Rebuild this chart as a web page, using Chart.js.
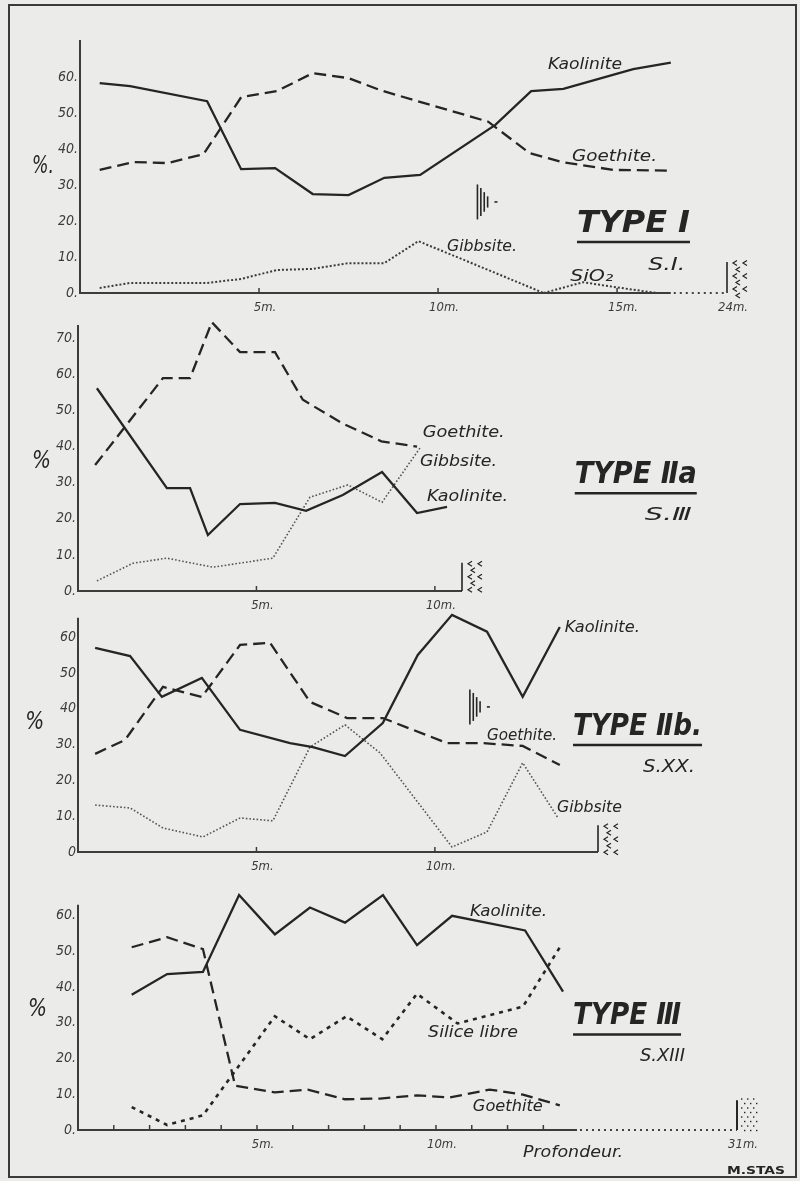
<!DOCTYPE html>
<html>
<head>
<meta charset="utf-8">
<script src="https://cdn.jsdelivr.net/npm/chart.js@4.4.1/dist/chart.umd.min.js"></script>
<style>
  html, body { margin: 0; padding: 0; background: #ebebe9; }
  #sheet { position: relative; width: 800px; height: 1181px; overflow: hidden; background: #ebebe9; }
  #frame { position: absolute; left: 8px; top: 4px; width: 785px; height: 1170px; border: 2px solid #3a3a3a; }
  canvas { position: absolute; left: 0; }
</style>
</head>
<body>
<div id="sheet">
  <div id="frame"></div>
  <canvas id="c1"></canvas>
  <canvas id="c2"></canvas>
  <canvas id="c3"></canvas>
  <canvas id="c4"></canvas>
</div>
<script>
// ---------- Profile S.I (Type I) : depth in m, content in % ----------
const kaolDepth1 = [0.55, 1.4, 3.55, 4.5, 5.45, 6.5, 7.5, 8.5, 9.5, 11.6, 12.6, 13.5, 15.45, 16.5];
const kaol1      = [58.3, 57.5, 53.3, 34.4, 34.7, 27.5, 27.2, 32.0, 32.8, 46.7, 56.1, 56.7, 62.2, 64.0];
const goeDepth1  = [0.55, 1.5, 2.45, 3.45, 4.5, 5.5, 6.5, 7.5, 8.4, 11.4, 12.55, 13.45, 14.9, 16.5];
const goe1       = [34.2, 36.4, 36.1, 38.6, 54.4, 56.1, 61.1, 59.7, 56.3, 47.6, 38.9, 36.4, 34.2, 34.0];
const gibDepth1  = [0.55, 1.4, 3.55, 4.5, 5.5, 6.5, 7.5, 8.5, 9.45, 10.6, 12.95];
const gib1       = [1.4, 2.8, 2.8, 3.9, 6.4, 6.7, 8.3, 8.3, 14.4, 9.7, 0.0];
const sioDepth1  = [12.95, 14.05, 14.9, 16.1];
const sio1       = [0.0, 3.0, 1.7, 0.0];

// ---------- Profile S.III (Type IIa) ----------
const kaolDepth2 = [0.53, 2.49, 3.14, 3.64, 4.54, 5.52, 6.39, 7.42, 8.52, 9.5, 10.34];
const kaol2      = [56.2, 28.5, 28.5, 15.5, 24.1, 24.4, 22.2, 26.6, 33.0, 21.6, 23.3];
const goeDepth2  = [0.48, 2.38, 3.14, 3.75, 4.54, 5.52, 6.3, 7.4, 8.5, 9.5];
const goe2       = [34.9, 59.0, 59.0, 74.5, 66.2, 66.2, 53.0, 46.5, 41.5, 40.0];
const gibDepth2  = [0.53, 1.54, 2.49, 3.78, 5.46, 6.5, 7.56, 8.52, 9.58];
const gib2       = [2.8, 7.7, 9.1, 6.6, 9.1, 26.0, 29.4, 24.6, 39.6];

// ---------- Profile S.XX (Type IIb) ----------
const kaolDepth3 = [0.48, 1.46, 2.35, 3.47, 4.54, 5.94, 6.58, 7.48, 8.54, 9.52, 10.48, 11.46, 12.46, 13.5];
const kaol3      = [57.0, 54.7, 43.3, 48.6, 34.1, 30.4, 29.3, 26.8, 36.0, 55.0, 66.2, 61.5, 43.3, 62.8];
const goeDepth3  = [0.48, 1.32, 2.38, 3.47, 4.54, 5.38, 6.5, 7.54, 8.54, 10.34, 11.34, 12.46, 13.5];
const goe3       = [27.4, 31.3, 46.1, 43.3, 57.8, 58.4, 41.9, 37.4, 37.4, 30.4, 30.4, 29.6, 24.3];
const gibDepth3  = [0.48, 1.46, 2.38, 3.5, 4.54, 5.46, 6.5, 7.48, 8.46, 10.48, 11.46, 12.46, 13.45];
const gib3       = [13.1, 12.3, 6.7, 4.2, 9.5, 8.7, 29.3, 35.5, 27.7, 1.4, 5.6, 24.9, 9.5];

// ---------- Profile S.XIII (Type III) ----------
const kaolDepth4 = [1.5, 2.49, 3.49, 4.5, 5.5, 6.48, 7.46, 8.52, 9.47, 10.45, 12.49, 13.55];
const kaol4      = [37.8, 43.6, 44.2, 65.7, 54.7, 62.2, 58.0, 65.7, 51.7, 59.9, 55.8, 38.7];
const goeDepth4  = [1.5, 2.49, 3.49, 4.39, 5.5, 6.42, 7.46, 8.44, 9.47, 10.39, 11.5, 12.43, 13.46];
const goe4       = [51.1, 53.9, 50.6, 12.4, 10.5, 11.3, 8.6, 8.8, 9.7, 9.1, 11.3, 9.9, 6.9];
const silDepth4  = [1.5, 2.49, 3.49, 5.5, 6.48, 7.5, 8.5, 9.47, 10.6, 12.43, 13.46];
const sil4       = [6.4, 1.4, 4.1, 31.8, 25.4, 31.8, 25.4, 38.1, 29.8, 34.5, 51.1];

// ---------- Axis ticks ----------
const yTicks1 = [0, 10, 20, 30, 40, 50, 60];
const yLabels1 = ['0.', '10.', '20.', '30.', '40.', '50.', '60.'];
const yTicks2 = [0, 10, 20, 30, 40, 50, 60, 70];
const yLabels2 = ['0.', '10.', '20.', '30.', '40.', '50.', '60.', '70.'];
const yTicks3 = [0, 10, 20, 30, 40, 50, 60];
const yLabels3 = ['0', '10.', '20.', '30.', '40', '50', '60'];
const yTicks4 = [0, 10, 20, 30, 40, 50, 60];
const yLabels4 = ['0.', '10.', '20.', '30.', '40.', '50.', '60.'];

// the last tick of profiles S.I and S.XIII marks the (compressed) bottom of the hole
const xTicks1 = [5, 10, 15, 18.07];
const xLabels1 = ['5m.', '10m.', '15m.', '24m.'];
const xTicks2 = [5, 10];
const xLabels2 = ['5m.', '10m.'];
const xTicks3 = [5, 10];
const xLabels3 = ['5m.', '10m.'];
const xTicks4 = [1, 2, 3, 4, 5, 6, 7, 8, 9, 10, 11, 12, 13, 18.41];
const xLabels4 = ['', '', '', '', '5m.', '', '', '', '', '10m.', '', '', '', '31m.'];

// ---------- styling ----------
const INK = '#252525';
const GREY = '#3c3c3c';
const FAM = '"DejaVu Sans Condensed", "DejaVu Sans", sans-serif';
const X_AXIS_H = 20;
const small = 'italic 15px ' + FAM;
const big = 'italic bold 30px ' + FAM;
const mid = 'italic 18px ' + FAM;
const pct = 'italic 24px ' + FAM;

const solid = { color: INK, width: 2.3, dash: [] };
const dashed = { color: INK, width: 2.3, dash: [12, 6] };
const dotted = { color: '#3a3a3a', width: 2, dash: [2, 2] };
const fineDots = { color: '#555', width: 1.6, dash: [1.6, 2] };
const coarseDots = { color: INK, width: 2.6, dash: [4, 5] };

function series(name, depth, values, style) {
  return { name, depth, values, style };
}

const panels = [
  {
    canvas: 'c1', top: 0, height: 320, left: 80, right: 727, chartTop: 40, chartBottom: 293,
    yMax: 70.3, axisTop: 70.3, xMax: 18.07, solidEnd: 16.5,
    yTicks: yTicks1, yLabels: yLabels1, xTicks: xTicks1, xLabels: xLabels1, tickMarks: [5, 10, 15],
    series: [
      series('Kaolinite', kaolDepth1, kaol1, solid),
      series('Goethite', goeDepth1, goe1, dashed),
      series('Gibbsite', gibDepth1, gib1, dotted),
      series('SiO2', sioDepth1, sio1, dotted)
    ],
    notes: [
      { t: 'Kaolinite', x: 13.07, y: 63.3, font: small, w: 74 },
      { t: 'Goethite.', x: 13.74, y: 37.8, font: small, w: 85 },
      { t: 'Gibbsite.', x: 10.25, y: 12.8, font: small, w: 70 },
      { t: 'SiO₂', x: 13.69, y: 4.4, font: small, w: 43 },
      { t: 'TYPE I', x: 13.88, y: 19.2, font: big, w: 113, ul: 14.2 },
      { t: 'S.I.', x: 15.87, y: 7.8, font: mid, w: 37 },
      { t: '%.', x: -1.34, y: 35, font: pct, w: 22 }
    ],
    hatch: [{ x: 11.1, y: 25.3, h: 35 }],
    chevrons: [{ x: 18.07, top: 8.6 }],
    sand: []
  },
  {
    canvas: 'c2', top: 310, height: 305, left: 78, right: 462, chartTop: 10, chartBottom: 281,
    yMax: 75, axisTop: 73.7, xMax: 10.76, solidEnd: 10.76,
    yTicks: yTicks2, yLabels: yLabels2, xTicks: xTicks2, xLabels: xLabels2, tickMarks: [5, 10],
    series: [
      series('Kaolinite', kaolDepth2, kaol2, solid),
      series('Goethite', goeDepth2, goe2, dashed),
      series('Gibbsite', gibDepth2, gib2, fineDots)
    ],
    notes: [
      { t: 'Goethite.', x: 9.66, y: 43.8, font: small, w: 82 },
      { t: 'Gibbsite.', x: 9.58, y: 35.7, font: small, w: 77 },
      { t: 'Kaolinite.', x: 9.78, y: 26.0, font: small, w: 81 },
      { t: 'TYPE Ⅱa', x: 13.92, y: 32.1, font: big, w: 122, ul: 27.1 },
      { t: 'S.Ⅲ', x: 15.88, y: 21.0, font: mid, w: 47 },
      { t: '%', x: -1.29, y: 35.7, font: pct, w: 19 }
    ],
    hatch: [],
    chevrons: [{ x: 10.76, top: 7.8 }],
    sand: []
  },
  {
    canvas: 'c3', top: 600, height: 280, left: 78, right: 598, chartTop: 12, chartBottom: 252,
    yMax: 67, axisTop: 65.4, xMax: 14.57, solidEnd: 14.57,
    yTicks: yTicks3, yLabels: yLabels3, xTicks: xTicks3, xLabels: xLabels3, tickMarks: [5, 10],
    series: [
      series('Kaolinite', kaolDepth3, kaol3, solid),
      series('Goethite', goeDepth3, goe3, dashed),
      series('Gibbsite', gibDepth3, gib3, fineDots)
    ],
    notes: [
      { t: 'Kaolinite.', x: 13.64, y: 62.6, font: small, w: 75 },
      { t: 'Goethite.', x: 11.46, y: 32.4, font: small, w: 70 },
      { t: 'Gibbsite', x: 13.42, y: 12.3, font: small, w: 65 },
      { t: 'TYPE Ⅱb.', x: 13.87, y: 34.9, font: big, w: 129, ul: 29.9 },
      { t: 'S.XX.', x: 15.83, y: 23.5, font: mid, w: 52 },
      { t: '%', x: -1.48, y: 36, font: pct, w: 19 }
    ],
    hatch: [{ x: 10.98, y: 40.5, h: 35 }],
    chevrons: [{ x: 14.57, top: 7.5 }],
    sand: []
  },
  {
    canvas: 'c4', top: 880, height: 301, left: 78, right: 737, chartTop: 7, chartBottom: 250,
    yMax: 67, axisTop: 63, xMax: 18.41, solidEnd: 13.94,
    yTicks: yTicks4, yLabels: yLabels4, xTicks: xTicks4, xLabels: xLabels4,
    tickMarks: [1, 2, 3, 4, 5, 6, 7, 8, 9, 10, 11, 12, 13],
    series: [
      series('Kaolinite', kaolDepth4, kaol4, solid),
      series('Goethite', goeDepth4, goe4, dashed),
      series('Silice libre', silDepth4, sil4, coarseDots)
    ],
    notes: [
      { t: 'Kaolinite.', x: 10.95, y: 60.8, font: small, w: 77 },
      { t: 'Silice libre', x: 9.78, y: 27.1, font: small, w: 90 },
      { t: 'Goethite', x: 11.03, y: 6.4, font: small, w: 70 },
      { t: 'TYPE Ⅲ', x: 13.83, y: 31.8, font: big, w: 108, ul: 26.7 },
      { t: 'S.XIII', x: 15.7, y: 20.7, font: mid, w: 45 },
      { t: '%', x: -1.4, y: 33.7, font: pct, w: 19 },
      { t: 'Profondeur.', x: 12.43, y: -6.4, font: small, w: 100 },
      { t: 'M.STAS', x: 18.13, y: -11.6, font: 'bold 11px ' + FAM, w: 58 }
    ],
    hatch: [],
    chevrons: [],
    sand: [{ x: 18.41, top: 8.3 }]
  }
];

// axes, labels and lithology symbols drawn over the plotted curves
const sheetMarks = {
  id: 'sheetMarks',
  afterDatasetsDraw(chart, args, o) {
    const { ctx, chartArea: a, scales: { x, y } } = chart;
    ctx.save();
    ctx.strokeStyle = GREY;
    ctx.fillStyle = INK;
    ctx.lineWidth = 2;
    ctx.setLineDash([]);
    const yb = y.getPixelForValue(0);

    // vertical axis
    ctx.beginPath();
    ctx.moveTo(a.left, yb + 1);
    ctx.lineTo(a.left, y.getPixelForValue(o.axisTop));
    ctx.stroke();

    // depth axis: solid, then dotted over the compressed interval
    const xs = x.getPixelForValue(o.solidEnd);
    ctx.beginPath();
    ctx.moveTo(a.left - 1, yb);
    ctx.lineTo(xs, yb);
    ctx.stroke();
    if (o.solidEnd < x.max) {
      ctx.save();
      ctx.lineWidth = 2;
      ctx.strokeStyle = '#444';
      ctx.setLineDash([2, 4]);
      ctx.beginPath();
      ctx.moveTo(xs + 3, yb);
      ctx.lineTo(a.right, yb);
      ctx.stroke();
      ctx.restore();
    }

    // metre marks
    ctx.lineWidth = 1.5;
    o.tickMarks.forEach(v => {
      const px = x.getPixelForValue(v);
      ctx.beginPath();
      ctx.moveTo(px, yb);
      ctx.lineTo(px, yb - 5);
      ctx.stroke();
    });

    // text
    ctx.strokeStyle = INK;
    ctx.textBaseline = 'middle';
    ctx.textAlign = 'left';
    o.notes.forEach(n => {
      const px = x.getPixelForValue(n.x);
      const py = y.getPixelForValue(n.y);
      ctx.font = n.font;
      const m = ctx.measureText(n.t).width;
      ctx.save();
      ctx.translate(px, py);
      ctx.scale(n.w / m, 1);
      ctx.fillText(n.t, 0, 0);
      ctx.restore();
      if (n.ul !== undefined) {
        const uy = y.getPixelForValue(n.ul);
        ctx.save();
        ctx.lineWidth = 2.5;
        ctx.beginPath();
        ctx.moveTo(px, uy);
        ctx.lineTo(px + n.w, uy);
        ctx.stroke();
        ctx.restore();
      }
    });

    // bedrock symbol: graded vertical strokes
    o.hatch.forEach(h => {
      const px = x.getPixelForValue(h.x);
      const py = y.getPixelForValue(h.y);
      ctx.lineWidth = 1.6;
      [1, 0.8, 0.56, 0.32].forEach((f, i) => {
        ctx.beginPath();
        ctx.moveTo(px + i * 3.4, py - h.h * f / 2);
        ctx.lineTo(px + i * 3.4, py + h.h * f / 2);
        ctx.stroke();
      });
      ctx.beginPath();
      ctx.moveTo(px + 17, py);
      ctx.lineTo(px + 20, py);
      ctx.stroke();
    });

    // weathered rock symbol: bar with chevrons
    o.chevrons.forEach(c => {
      const px = x.getPixelForValue(c.x);
      const pt = y.getPixelForValue(c.top);
      ctx.lineWidth = 1.6;
      ctx.beginPath();
      ctx.moveTo(px, yb);
      ctx.lineTo(px, pt);
      ctx.stroke();
      ctx.lineWidth = 1.2;
      let row = 0;
      for (let cy = pt + 1; cy <= yb + 3; cy += 6.5, row++) {
        const cols = row % 2 === 0 ? [6, 16] : [9];
        cols.forEach(dx => {
          ctx.beginPath();
          ctx.moveTo(px + dx + 4, cy - 2.5);
          ctx.lineTo(px + dx, cy);
          ctx.lineTo(px + dx + 4, cy + 2.5);
          ctx.stroke();
        });
      }
    });

    // sandy material symbol: bar with dots
    o.sand.forEach(s => {
      const px = x.getPixelForValue(s.x);
      const pt = y.getPixelForValue(s.top);
      ctx.lineWidth = 2;
      ctx.beginPath();
      ctx.moveTo(px, yb);
      ctx.lineTo(px, pt);
      ctx.stroke();
      let row = 0;
      for (let cy = pt - 2; cy <= yb; cy += 4.5, row++) {
        const off = row % 2 === 0 ? 4 : 7;
        for (let dx = off; dx <= 19; dx += 6) {
          ctx.fillRect(px + dx, cy, 1.4, 1.4);
        }
      }
    });

    ctx.restore();
  }
};

function tickFont(size) {
  return { family: FAM, size, style: 'italic' };
}

panels.forEach(p => {
  const cv = document.getElementById(p.canvas);
  cv.width = 800;
  cv.height = p.height;
  cv.style.top = p.top + 'px';
  new Chart(cv, {
    type: 'line',
    data: {
      datasets: p.series.map(s => ({
        label: s.name,
        data: s.depth.map((d, i) => ({ x: d, y: s.values[i] })),
        borderColor: s.style.color,
        borderWidth: s.style.width,
        borderDash: s.style.dash,
        borderCapStyle: 'butt',
        borderJoinStyle: 'miter',
        pointRadius: 0,
        tension: 0,
        fill: false,
        clip: 6
      }))
    },
    options: {
      responsive: false,
      animation: false,
      devicePixelRatio: 1,
      layout: {
        padding: { left: 0, right: 800 - p.right, top: p.chartTop, bottom: p.height - p.chartBottom - X_AXIS_H }
      },
      plugins: {
        legend: { display: false },
        tooltip: { enabled: false },
        sheetMarks: {
          axisTop: p.axisTop, solidEnd: p.solidEnd, tickMarks: p.tickMarks,
          notes: p.notes, hatch: p.hatch, chevrons: p.chevrons, sand: p.sand
        }
      },
      scales: {
        x: {
          type: 'linear', min: 0, max: p.xMax,
          grid: { display: false, drawTicks: false },
          border: { display: false },
          afterBuildTicks: sc => { sc.ticks = p.xTicks.map(v => ({ value: v })); },
          afterFit: sc => { sc.height = X_AXIS_H; },
          ticks: {
            autoSkip: false, maxRotation: 0, padding: 7, labelOffset: 6,
            color: GREY, font: tickFont(13),
            callback: (v, i) => p.xLabels[i]
          }
        },
        y: {
          min: 0, max: p.yMax,
          grid: { display: false, drawTicks: false },
          border: { display: false },
          afterBuildTicks: sc => { sc.ticks = p.yTicks.map(v => ({ value: v })); },
          afterFit: sc => { sc.width = p.left; },
          ticks: {
            padding: 2, color: GREY, font: tickFont(14),
            callback: (v, i) => p.yLabels[i]
          }
        }
      }
    },
    plugins: [sheetMarks]
  });
});
</script>
</body>
</html>
